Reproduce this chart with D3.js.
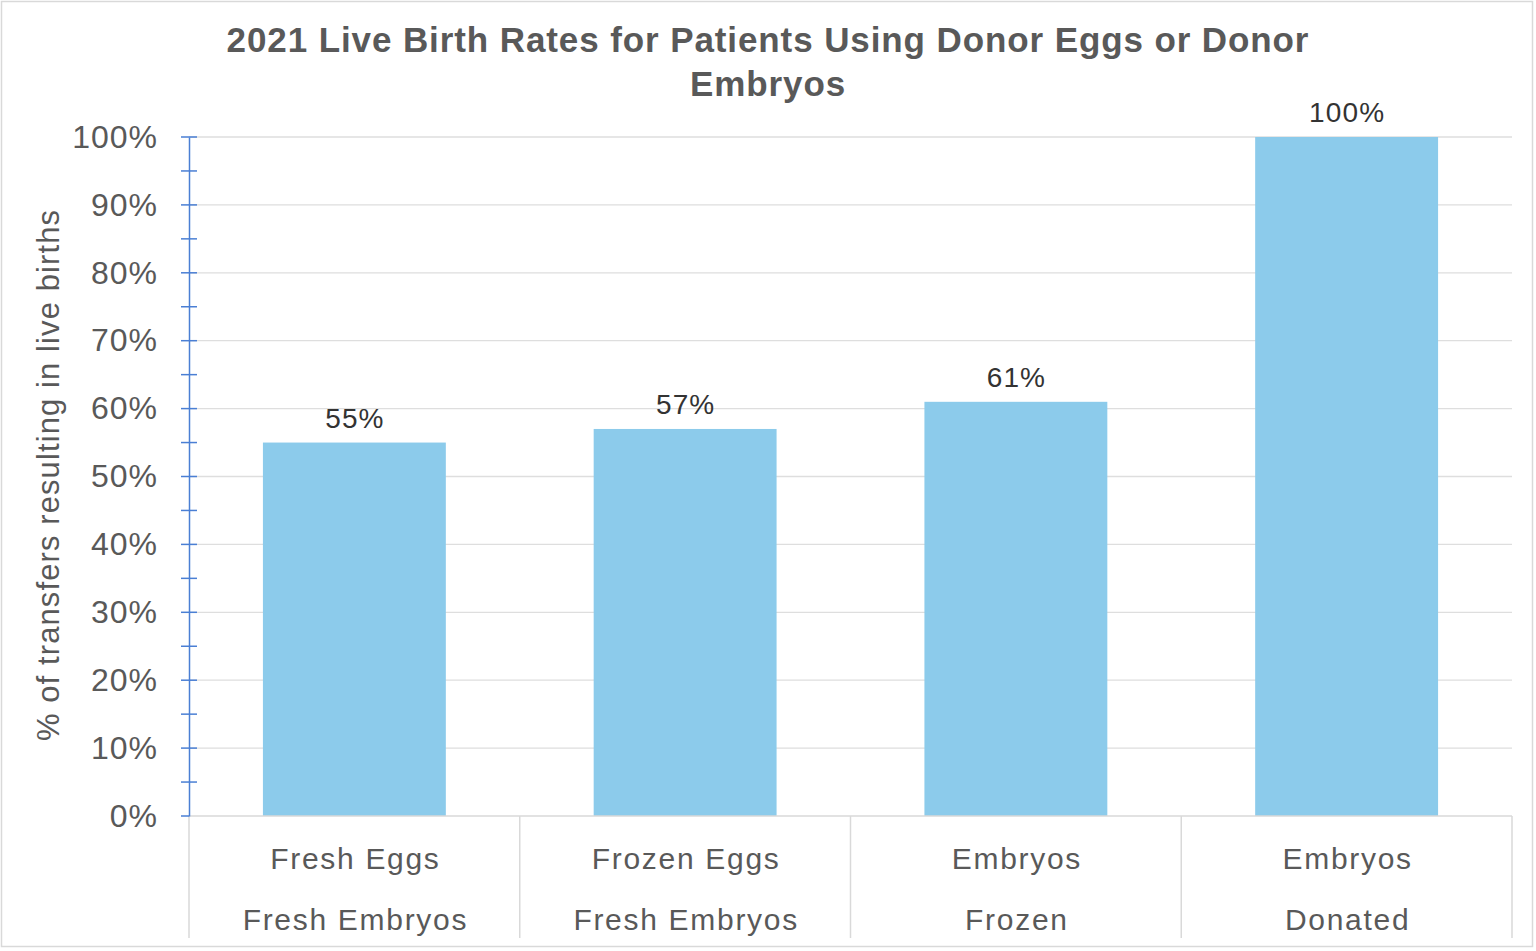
<!DOCTYPE html>
<html>
<head>
<meta charset="utf-8">
<script src="https://cdn.jsdelivr.net/npm/d3@7"></script>
<style>
  html, body { margin: 0; padding: 0; background: #fff; }
  svg { display: block; font-family: "Liberation Sans", Arial, Helvetica, sans-serif; }
</style>
</head>
<body>
<svg id="chart" width="1536" height="951"></svg>
<script>
// Data
const categories = ['fe', 'fz', 'ef', 'ed'];
const catLine1 = ['Fresh Eggs', 'Frozen Eggs', 'Embryos', 'Embryos'];
const catLine2 = ['Fresh Embryos', 'Fresh Embryos', 'Frozen', 'Donated'];
const values = [55, 57, 61, 100];
const yTicks = [0, 10, 20, 30, 40, 50, 60, 70, 80, 90, 100];
const titleLines = ['2021 Live Birth Rates for Patients Using Donor Eggs or Donor', 'Embryos'];

const MARGIN = { left: 189, right: 1512, top: 137, bottom: 816 };
const TEXT = '#595959';

const svg = d3.select('#chart');

// border
svg.append('rect')
  .attr('x', 1.5).attr('y', 1.5)
  .attr('width', 1531).attr('height', 945)
  .attr('fill', 'none').attr('stroke', '#d9d9d9').attr('stroke-width', 1.5);

const x = d3.scaleBand()
  .domain(categories)
  .range([MARGIN.left, MARGIN.right])
  .paddingInner(0).paddingOuter(0);

const y = d3.scaleLinear()
  .domain([0, 100])
  .range([MARGIN.bottom, MARGIN.top]);

// gridlines
svg.append('g')
  .selectAll('line')
  .data(yTicks.filter(d => d > 0))
  .join('line')
  .attr('x1', MARGIN.left).attr('x2', MARGIN.right)
  .attr('y1', d => y(d)).attr('y2', d => y(d))
  .attr('stroke', '#dedede').attr('stroke-width', 1.3);

// bars
const barW = x.bandwidth() * 0.553;
svg.append('g')
  .selectAll('rect')
  .data(values)
  .join('rect')
  .attr('x', (d, i) => x(categories[i]) + (x.bandwidth() - barW) / 2)
  .attr('y', d => y(d))
  .attr('width', barW)
  .attr('height', d => y(0) - y(d))
  .attr('fill', '#8ccbeb');

// value labels
svg.append('g')
  .selectAll('text')
  .data(values)
  .join('text')
  .attr('x', (d, i) => x(categories[i]) + x.bandwidth() / 2 + 0.5)
  .attr('y', d => y(d) - 15)
  .attr('text-anchor', 'middle')
  .attr('font-size', 28)
  .attr('letter-spacing', 1.1)
  .attr('fill', '#333')
  .text(d => d + '%');

// category axis
const xAxisG = svg.append('g');
xAxisG.append('line')
  .attr('x1', MARGIN.left).attr('x2', MARGIN.right)
  .attr('y1', MARGIN.bottom).attr('y2', MARGIN.bottom)
  .attr('stroke', '#d9d9d9').attr('stroke-width', 1.5);
const seps = categories.map(c => x(c)).concat([MARGIN.right]);
xAxisG.selectAll('line.sep')
  .data(seps)
  .join('line')
  .attr('class', 'sep')
  .attr('x1', d => d).attr('x2', d => d)
  .attr('y1', MARGIN.bottom).attr('y2', 938)
  .attr('stroke', '#d9d9d9').attr('stroke-width', 1.5);
[catLine1, catLine2].forEach((lines, k) => {
  xAxisG.selectAll('text.l' + k)
    .data(lines)
    .join('text')
    .attr('class', 'l' + k)
    .attr('x', (d, i) => x(categories[i]) + x.bandwidth() / 2 + 1)
    .attr('y', 869 + k * 61)
    .attr('text-anchor', 'middle')
    .attr('font-size', 30)
    .attr('letter-spacing', 1.7)
    .attr('fill', TEXT)
    .text(d => d);
});

// value axis
const yAxisG = svg.append('g')
  .attr('transform', `translate(${MARGIN.left},0)`)
  .call(d3.axisLeft(y).tickValues(yTicks).tickSize(0).tickPadding(31).tickFormat(d => d + '%'));
yAxisG.select('.domain').attr('stroke', '#4a7fd4').attr('stroke-width', 1.5);
yAxisG.selectAll('text')
  .attr('font-size', 32)
  .attr('letter-spacing', 1)
  .attr('fill', TEXT);
yAxisG.attr('font-family', null);

// tick marks (major + minor)
const minor = d3.range(0, 101, 5);
svg.append('g')
  .selectAll('line')
  .data(minor)
  .join('line')
  .attr('x1', MARGIN.left - 8)
  .attr('x2', d => d === 0 ? MARGIN.left : MARGIN.left + 8)
  .attr('y1', d => y(d)).attr('y2', d => y(d))
  .attr('stroke', '#4a7fd4').attr('stroke-width', 1.5);

// y title
svg.append('text')
  .attr('transform', 'translate(59,475) rotate(-90)')
  .attr('text-anchor', 'middle')
  .attr('font-size', 31)
  .attr('letter-spacing', 1.1)
  .attr('fill', TEXT)
  .text('% of transfers resulting in live births');

// title
svg.append('g')
  .selectAll('text')
  .data(titleLines)
  .join('text')
  .attr('x', 768)
  .attr('y', (d, i) => 52 + i * 44)
  .attr('text-anchor', 'middle')
  .attr('font-size', 35)
  .attr('letter-spacing', 0.9)
  .attr('font-weight', 'bold')
  .attr('fill', TEXT)
  .text(d => d);
</script>
</body>
</html>
